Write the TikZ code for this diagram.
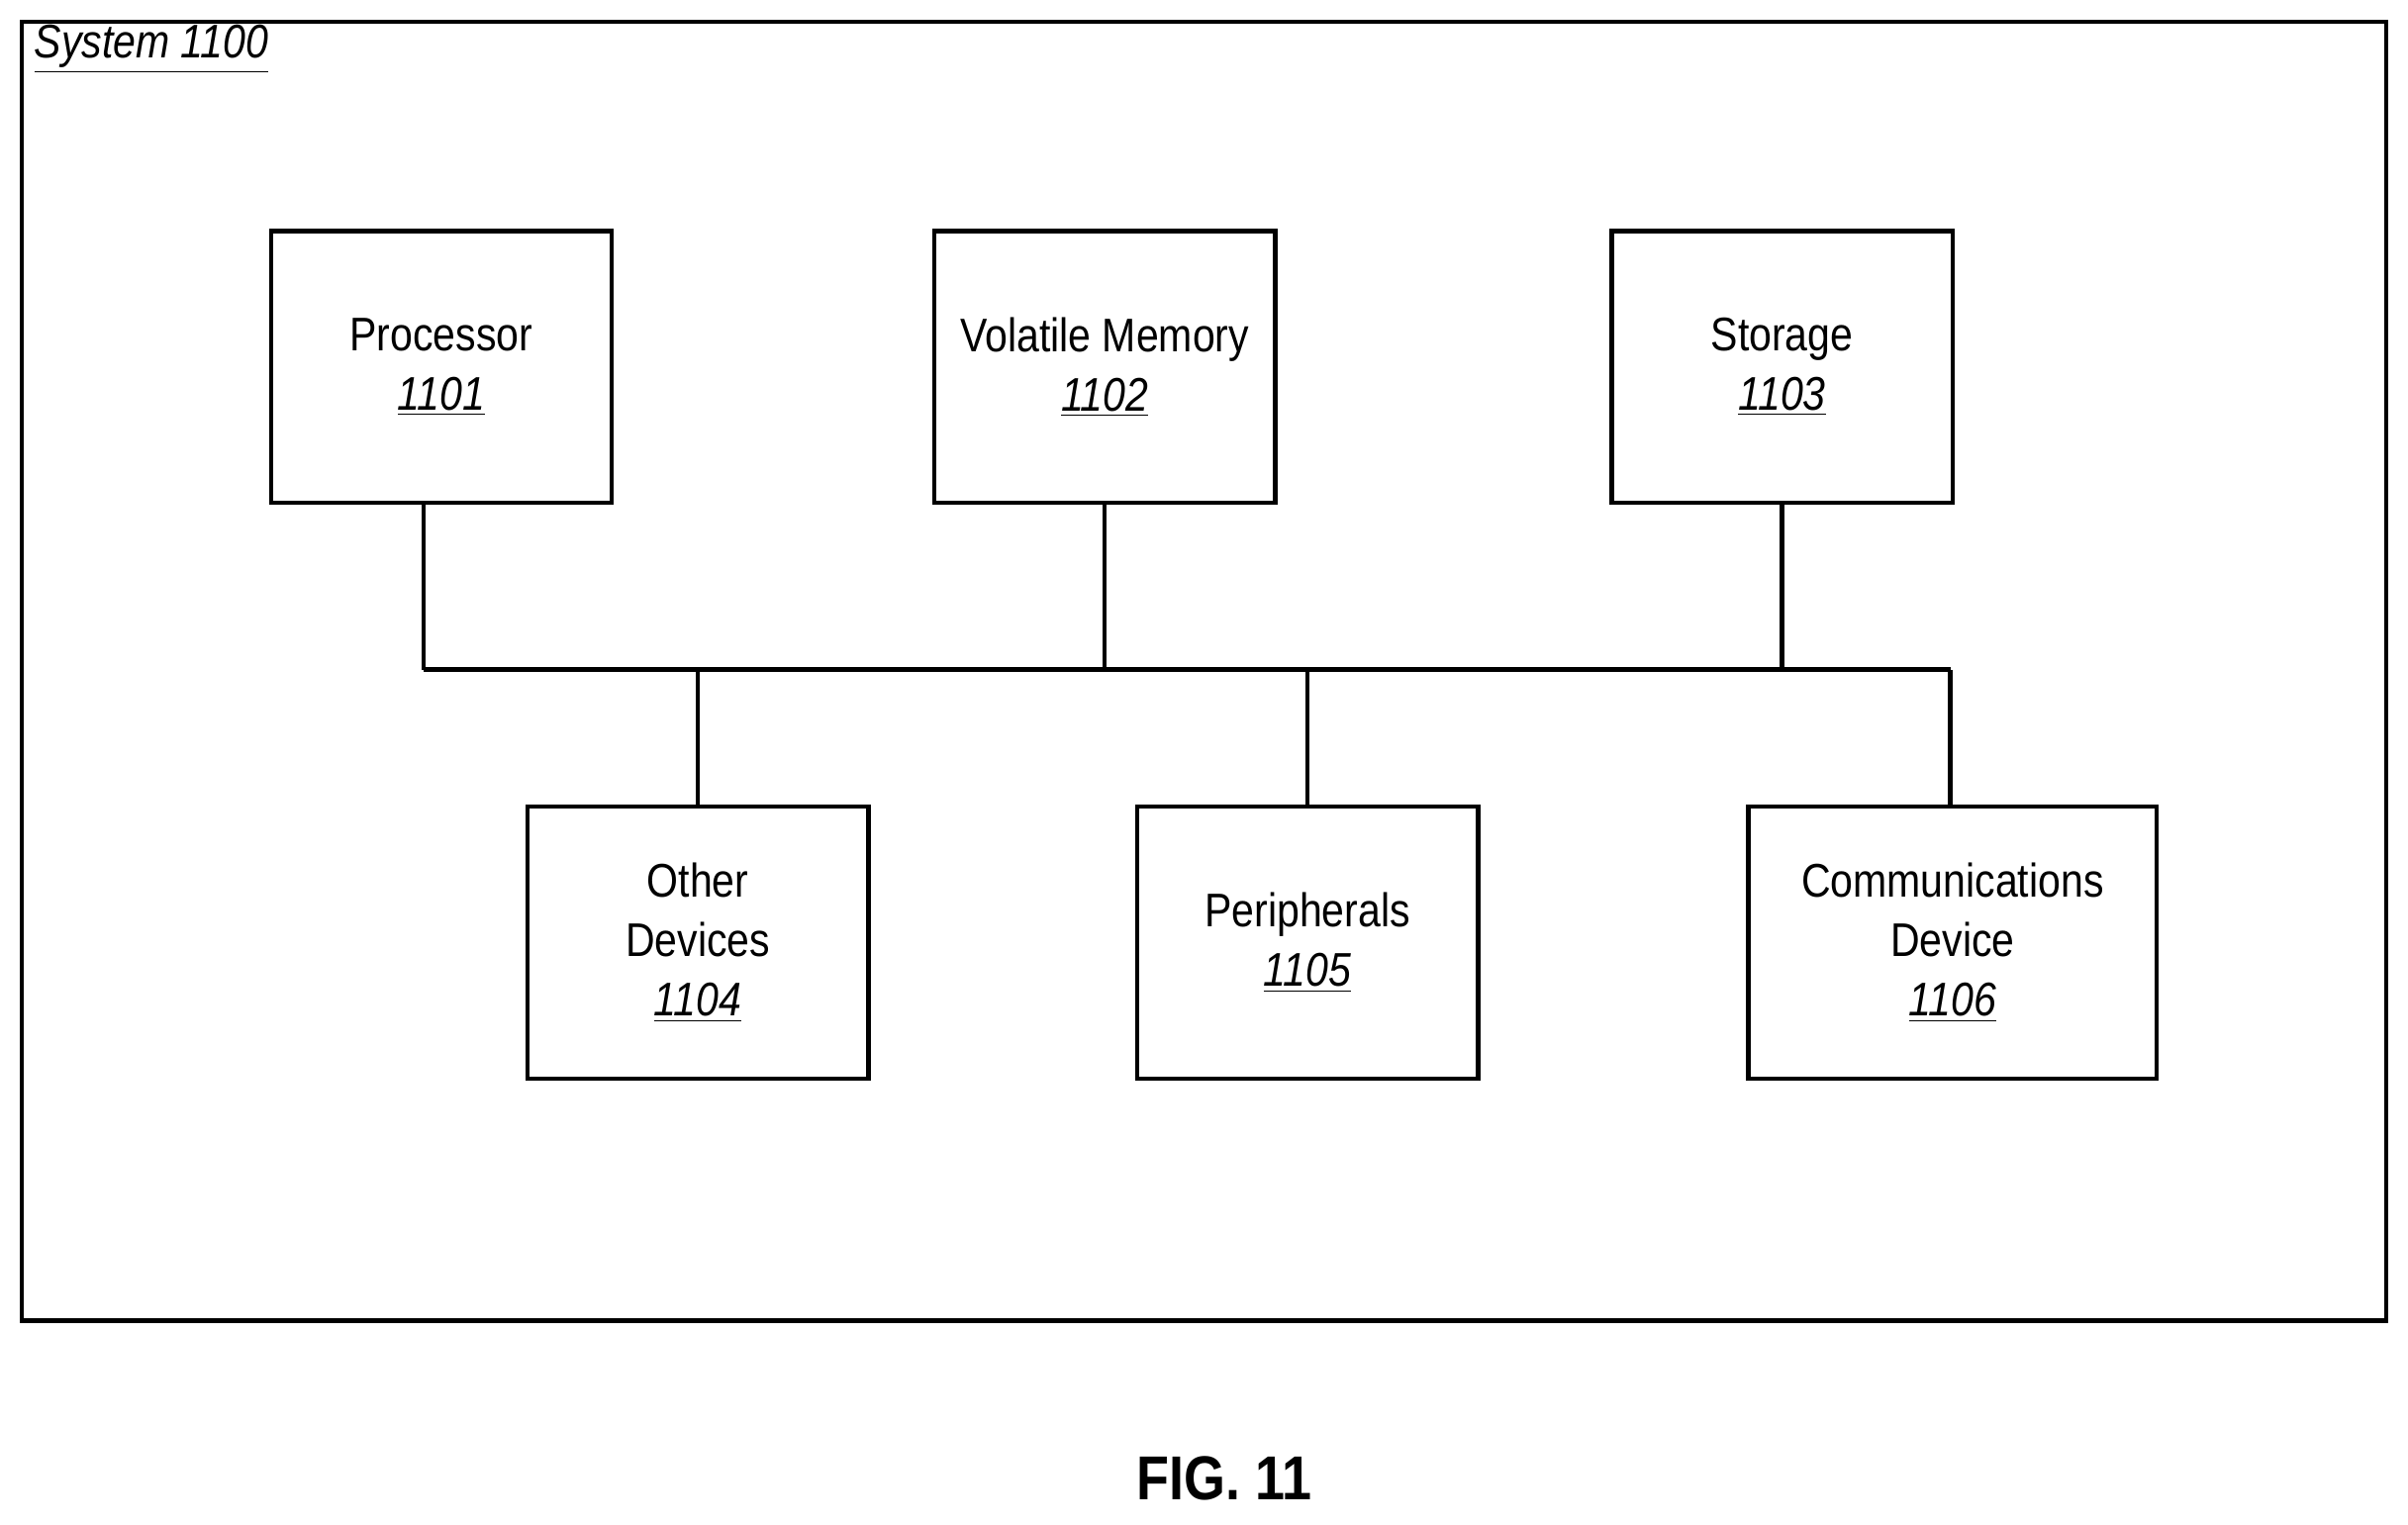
\documentclass[tikz,border=0pt]{standalone}
\usepackage{fontspec}
\setmainfont{Liberation Sans}[FakeStretch=0.86]
\begin{document}
\begin{tikzpicture}[x=0.02cm,y=-0.02cm,
  box/.style={draw,line width=1.6pt,minimum width=222*0.02cm,minimum height=177*0.02cm,align=center,font=\fontsize{17.5}{22}\selectfont,inner sep=0pt},
  wire/.style={line width=1.6pt}]
\useasboundingbox (0,0) rectangle (1568,992.5);
\draw[line width=1.6pt] (14,14) rectangle (1554,860);
\node[anchor=west,font=\fontsize{17.5}{20}\selectfont\itshape,inner sep=0pt] (sys) at (22,32) {\underline{System 1100}};
\node[box,anchor=north west] (p) at (175,149) {Processor\\\textit{\underline{1101}}};
\node[box,anchor=north west] (v) at (607,149) {Volatile Memory\\\textit{\underline{1102}}};
\node[box,anchor=north west] (s) at (1048,149) {Storage\\\textit{\underline{1103}}};
\node[box,anchor=north west] (o) at (342,524) {Other\\Devices\\\textit{\underline{1104}}};
\node[box,anchor=north west] (ph) at (739,524) {Peripherals\\\textit{\underline{1105}}};
\node[box,anchor=north west,minimum width=266*0.02cm] (c) at (1137,524) {Communications\\Device\\\textit{\underline{1106}}};
\coordinate (bl) at (276,436);
\coordinate (br) at (1270,436);
\draw[wire] (bl) -- (br);
\draw[wire] (p.south -| bl) -- (bl);
\draw[wire] (v.south) -- (v.south |- bl);
\draw[wire] (s.south) -- (s.south |- bl);
\draw[wire] (o.north) -- (o.north |- bl);
\draw[wire] (ph.north) -- (ph.north |- bl);
\draw[wire] (c.north -| br) -- (br);
\node[font=\fontsize{23}{26}\selectfont\bfseries] (fig) at (797,963) {FIG. 11};
\end{tikzpicture}
\end{document}
